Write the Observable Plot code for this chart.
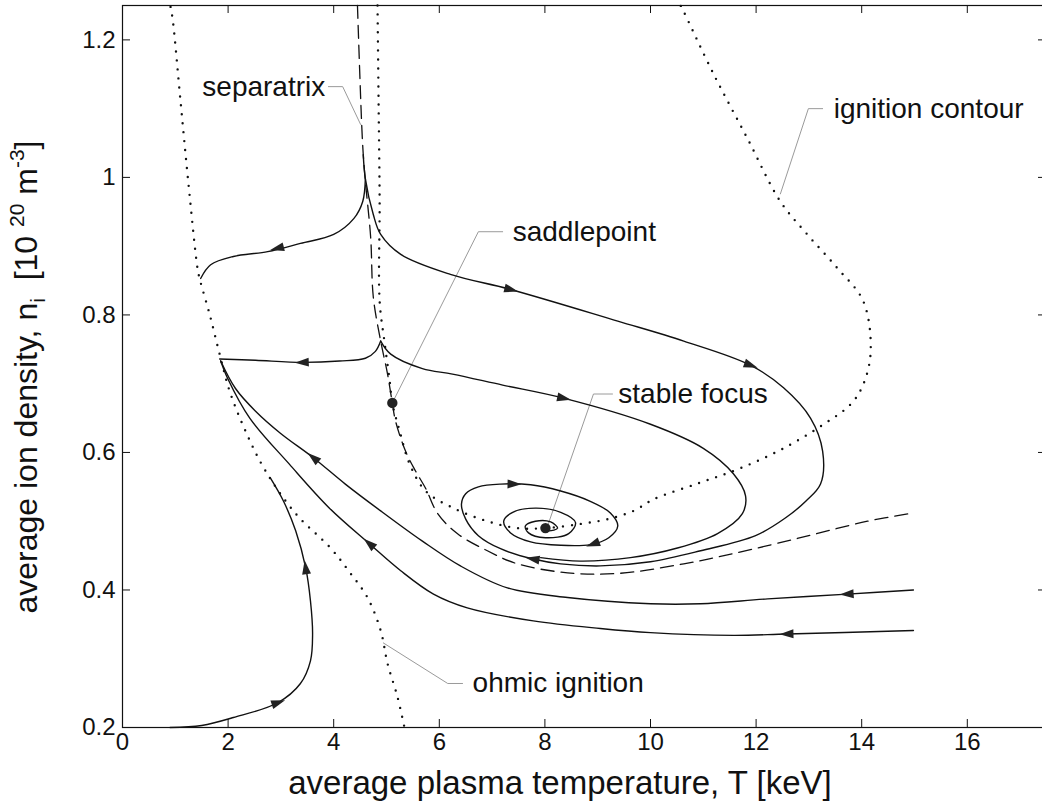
<!DOCTYPE html>
<html>
<head>
<meta charset="utf-8">
<script src="https://cdn.jsdelivr.net/npm/d3@7"></script>
<script src="https://cdn.jsdelivr.net/npm/@observablehq/plot@0.6"></script>
<style>
  html, body { margin: 0; padding: 0; background: #fff; }
  #chart svg { display: block; }
</style>
</head>
<body>
<div id="chart"></div>
<script>
// ---- tick values ----
const xTicks = [0, 2, 4, 6, 8, 10, 12, 14, 16];
const yTicks = [0.2, 0.4, 0.6, 0.8, 1.0, 1.2];
const yTickLabels = ["0.2", "0.4", "0.6", "0.8", "1", "1.2"];

// ---- dotted curves [T keV, n 1e20 m^-3] ----
const ohmicIgnition = [[0.91,1.248],[0.95,1.230],[1.10,1.110],[1.25,0.990],[1.42,0.868],[1.46,0.853],[1.65,0.801],[1.84,0.743],[2.03,0.689],[2.33,0.631],[2.71,0.573],[3.28,0.511],[3.94,0.461],[4.32,0.424],[4.64,0.389],[4.89,0.341],[5.02,0.293],[5.21,0.244],[5.34,0.200]];
const ignitionContour = [[4.83,1.250],[4.85,1.110],[4.87,0.965],[4.87,0.820],[4.96,0.762],[5.06,0.704],[5.11,0.672],[5.25,0.631],[5.44,0.583],[5.74,0.544],[6.27,0.519],[6.91,0.500],[7.48,0.490],[8.01,0.490],[8.67,0.496],[9.19,0.503],[9.68,0.515],[10.06,0.532],[10.90,0.555],[11.70,0.577],[12.52,0.606],[13.28,0.641],[13.79,0.670],[14.03,0.699],[14.17,0.747],[14.03,0.820],[13.54,0.868],[12.97,0.917],[12.46,0.965],[11.84,1.056],[11.19,1.151],[10.63,1.241],[10.57,1.250]];

// ---- dashed separatrix ----
const separatrix = [[4.45,1.250],[4.53,1.077],[4.56,1.033],[4.60,0.994],[4.70,0.913],[4.75,0.826],[4.89,0.762],[5.02,0.714],[5.11,0.672],[5.17,0.646],[5.36,0.602],[5.55,0.573],[5.74,0.548],[5.97,0.511],[6.34,0.482],[6.91,0.457],[7.48,0.438],[8.43,0.425],[9.38,0.424],[10.63,0.438],[11.57,0.453],[12.84,0.476],[14.11,0.500],[14.98,0.512]];

// ---- trajectories (in direction of motion) ----
const trajA = [[4.60,0.998],[4.55,0.965],[4.38,0.940],[4.00,0.917],[3.37,0.904],[2.75,0.892],[2.10,0.885],[1.67,0.873],[1.48,0.853]];
const trajB = [[4.56,1.033],[4.60,0.998],[4.75,0.946],[4.89,0.917],[5.27,0.888],[6.21,0.859],[7.35,0.837],[9.38,0.791],[10.63,0.762],[11.89,0.727],[12.52,0.694],[13.03,0.650],[13.26,0.602],[13.22,0.554],[12.94,0.529],[12.56,0.505],[11.99,0.479],[10.95,0.457],[10.00,0.441],[9.05,0.435],[8.30,0.438],[7.78,0.445],[7.16,0.460],[6.74,0.479],[6.50,0.503],[6.42,0.525],[6.50,0.540],[6.74,0.550],[7.16,0.554],[7.73,0.553],[8.30,0.544],[8.86,0.529],[9.24,0.512],[9.38,0.493],[9.21,0.476],[8.86,0.466],[8.30,0.465],[7.73,0.470],[7.35,0.483],[7.22,0.500],[7.39,0.513],[7.82,0.519],[8.30,0.513],[8.58,0.498],[8.45,0.482],[8.01,0.476],[7.69,0.483],[7.63,0.493],[7.82,0.500],[8.11,0.499],[8.24,0.490],[8.07,0.486],[7.97,0.489]];
const trajC = [[4.89,0.762],[5.08,0.743],[5.68,0.722],[6.25,0.714],[7.20,0.698],[8.35,0.679],[10.00,0.641],[11.00,0.606],[11.57,0.569],[11.80,0.537],[11.74,0.511],[11.27,0.482],[10.51,0.461],[9.62,0.447],[8.67,0.442],[7.92,0.447]];
const trajD = [[4.89,0.762],[4.79,0.747],[4.60,0.737],[4.11,0.733],[3.41,0.731],[2.52,0.734],[1.84,0.736]];
const trajE = [[14.98,0.400],[13.73,0.394],[12.22,0.387],[10.95,0.380],[10.00,0.380],[8.43,0.389],[7.29,0.403],[6.40,0.435],[5.68,0.471],[4.89,0.515],[4.22,0.554],[3.62,0.592],[2.99,0.628],[2.52,0.660],[2.14,0.693],[1.86,0.733]];
const trajF = [[14.98,0.341],[12.59,0.336],[11.57,0.334],[10.00,0.338],[9.05,0.344],[7.78,0.355],[6.53,0.374],[5.89,0.394],[5.27,0.428],[4.68,0.467],[3.92,0.519],[3.16,0.583],[2.41,0.650],[1.99,0.708],[1.86,0.733]];
const trajG = [[0.90,0.200],[1.50,0.203],[2.10,0.2145],[2.94,0.236],[3.37,0.264],[3.56,0.297],[3.60,0.336],[3.56,0.384],[3.47,0.432],[3.28,0.486],[3.05,0.529],[2.80,0.563]];

// ---- arrow heads (position on a trajectory) ----
const arrowCurves = ["A","B","B","B","B","B","C","D","E","E","F","F","G","G"];
const arrowT      = [2.94, 7.35, 11.89, 7.78, 7.41, 8.92, 8.35, 3.41, 3.62, 13.73, 4.68, 12.59, 2.94, 3.47];
const arrowN      = [0.897, 0.837, 0.727, 0.445, 0.554, 0.467, 0.679, 0.731, 0.592, 0.394, 0.467, 0.336, 0.236, 0.432];

// ---- fixed points ----
const fixedNames = ["saddlepoint", "stable focus"];
const fixedT = [5.11, 8.01];
const fixedN = [0.672, 0.490];

// ---- annotation labels ----
const labelText   = ["separatrix", "ignition contour", "saddlepoint", "stable focus", "ohmic ignition"];
const labelAnchor = ["end", "start", "start", "start", "start"];
const labelT      = [3.84, 13.47, 7.39, 9.39, 6.63];
const labelN      = [1.132, 1.100, 0.921, 0.685, 0.264];

// ---- leader lines ----
const leaderSeparatrix = [[3.90,1.132],[4.17,1.132],[4.51,1.077]];
const leaderIgnition   = [[13.26,1.100],[12.99,1.100],[12.46,0.976]];
const leaderSaddle     = [[7.20,0.921],[6.74,0.921],[5.13,0.675]];
const leaderFocus      = [[9.28,0.685],[8.92,0.685],[8.05,0.493]];
const leaderOhmic      = [[6.44,0.264],[6.16,0.264],[4.94,0.323]];

// ---------------------------------------------------------------
const rows = (pts, id) => pts.map(([T, n]) => ({T, n, id}));
const trajectories = {A: trajA, B: trajB, C: trajC, D: trajD, E: trajE, F: trajF, G: trajG};
const trajRows = Object.entries(trajectories).flatMap(([id, pts]) => rows(pts, id));
const dottedRows = [...rows(ohmicIgnition, "ohmic"), ...rows(ignitionContour, "ignition")];
const leaderRows = [
  ...rows(leaderSeparatrix, "s"), ...rows(leaderIgnition, "i"), ...rows(leaderSaddle, "p"),
  ...rows(leaderFocus, "f"), ...rows(leaderOhmic, "o")
];
const labels = labelText.map((text, i) => ({text, anchor: labelAnchor[i], T: labelT[i], n: labelN[i]}));
const fixedPts = fixedNames.map((name, i) => ({name, T: fixedT[i], n: fixedN[i]}));

const FONT = "'Liberation Sans', Arial, Helvetica, sans-serif";
const W = 1042, H = 805, ML = 122, MR = -4, MT = 5, MB = 78;
const TICK = 8;
const innerW = W - ML - MR, innerH = H - MT - MB;
const dims = {
  width: W, height: H,
  marginLeft: ML, marginRight: MR, marginTop: MT, marginBottom: MB,
  x: {domain: [0, 17.5]},
  y: {domain: [0.2, 1.25]},
  style: {fontFamily: FONT, background: "#fff", color: "#111"}
};

// probe plot to obtain the library's scales for arrow orientation
const probe = Plot.plot({...dims, marks: [Plot.frame()]});
const sx = probe.scale("x"), sy = probe.scale("y");
function angleAt(pts, T, n) {
  const px = sx.apply(T), py = sy.apply(n);
  let best = Infinity, dir = [1, 0];
  for (let i = 0; i < pts.length - 1; i++) {
    const x0 = sx.apply(pts[i][0]), y0 = sy.apply(pts[i][1]);
    const x1 = sx.apply(pts[i+1][0]), y1 = sy.apply(pts[i+1][1]);
    const dx = x1 - x0, dy = y1 - y0, L = dx*dx + dy*dy || 1;
    let t = ((px - x0)*dx + (py - y0)*dy) / L; t = Math.max(0, Math.min(1, t));
    const d = Math.hypot(x0 + t*dx - px, y0 + t*dy - py);
    if (d < best) { best = d; dir = [dx, dy]; }
  }
  return Math.atan2(dir[0], -dir[1]) * 180 / Math.PI;
}
const arrows = arrowCurves.map((c, i) => ({
  T: arrowT[i], n: arrowN[i], angle: angleAt(trajectories[c], arrowT[i], arrowN[i])
}));

const arrowSymbol = {
  draw(ctx, size) {
    const r = Math.sqrt(size / Math.PI);
    ctx.moveTo(0, -1.25 * r);
    ctx.lineTo(0.72 * r, 1.0 * r);
    ctx.lineTo(-0.72 * r, 1.0 * r);
    ctx.closePath();
  }
};

const plot = Plot.plot({
  ...dims,
  marks: [
    Plot.frame({stroke: "#111", strokeWidth: 1.2}),
    // tick labels
    Plot.axisX({anchor: "bottom", ticks: xTicks, tickSize: 0, tickPadding: 5, fontSize: 24, label: null}),
    Plot.axisY({anchor: "left", ticks: yTicks, tickSize: 0, tickPadding: 7, fontSize: 24, label: null,
                tickFormat: (d) => yTickLabels[yTicks.indexOf(d)]}),
    // inward tick marks on all four sides
    Plot.tickX(xTicks, {x: (d) => d, stroke: "#111", strokeWidth: 1, insetTop: innerH - TICK}),
    Plot.tickX(xTicks, {x: (d) => d, stroke: "#111", strokeWidth: 1, insetBottom: innerH - TICK}),
    Plot.tickY(yTicks, {y: (d) => d, stroke: "#111", strokeWidth: 1, insetRight: innerW - TICK}),
    Plot.tickY(yTicks, {y: (d) => d, stroke: "#111", strokeWidth: 1, insetLeft: innerW - TICK}),
    // leader lines
    Plot.line(leaderRows, {x: "T", y: "n", z: "id", stroke: "#9a9a9a", strokeWidth: 1}),
    // dotted contours
    Plot.line(dottedRows, {x: "T", y: "n", z: "id", stroke: "#111", strokeWidth: 2.4,
      strokeDasharray: "0,9", strokeLinecap: "round", curve: "catmull-rom"}),
    // dashed separatrix
    Plot.line(rows(separatrix, "sep"), {x: "T", y: "n", stroke: "#111", strokeWidth: 1.3,
      strokeDasharray: "13,7", curve: "catmull-rom"}),
    // trajectories
    Plot.line(trajRows, {x: "T", y: "n", z: "id", stroke: "#111", strokeWidth: 1.4, curve: "catmull-rom"}),
    // arrow heads
    Plot.dot(arrows, {x: "T", y: "n", rotate: "angle", symbol: arrowSymbol, r: 6.2, fill: "#222", stroke: "none"}),
    // fixed points
    Plot.dot(fixedPts, {x: "T", y: "n", r: 5.2, fill: "#222", stroke: "none"}),
    // annotation labels
    Plot.text(labels.filter(d => d.anchor === "start"), {x: "T", y: "n", text: "text", textAnchor: "start", fontSize: 28, fill: "#111"}),
    Plot.text(labels.filter(d => d.anchor === "end"), {x: "T", y: "n", text: "text", textAnchor: "end", fontSize: 28, fill: "#111"})
  ]
});

// axis titles
const svg = d3.select(plot);
svg.append("text")
  .attr("x", 560).attr("y", 794)
  .attr("text-anchor", "middle")
  .attr("font-family", FONT).attr("font-size", 33).attr("fill", "#111")
  .text("average plasma temperature, T [keV]");
const yl = svg.append("text")
  .attr("transform", "translate(37,377) rotate(-90)")
  .attr("text-anchor", "middle")
  .attr("font-family", FONT).attr("font-size", 32).attr("fill", "#111");
yl.append("tspan").text("average ion density, n");
yl.append("tspan").attr("font-size", 21).attr("dy", 8).text("i");
yl.append("tspan").attr("dy", -8).text("  [10 ");
yl.append("tspan").attr("font-size", 21).attr("dy", -13).text("20");
yl.append("tspan").attr("dy", 13).text(" m");
yl.append("tspan").attr("font-size", 21).attr("dy", -13).text("-3");
yl.append("tspan").attr("dy", 13).text("]");

document.getElementById("chart").appendChild(plot);
</script>
</body>
</html>
